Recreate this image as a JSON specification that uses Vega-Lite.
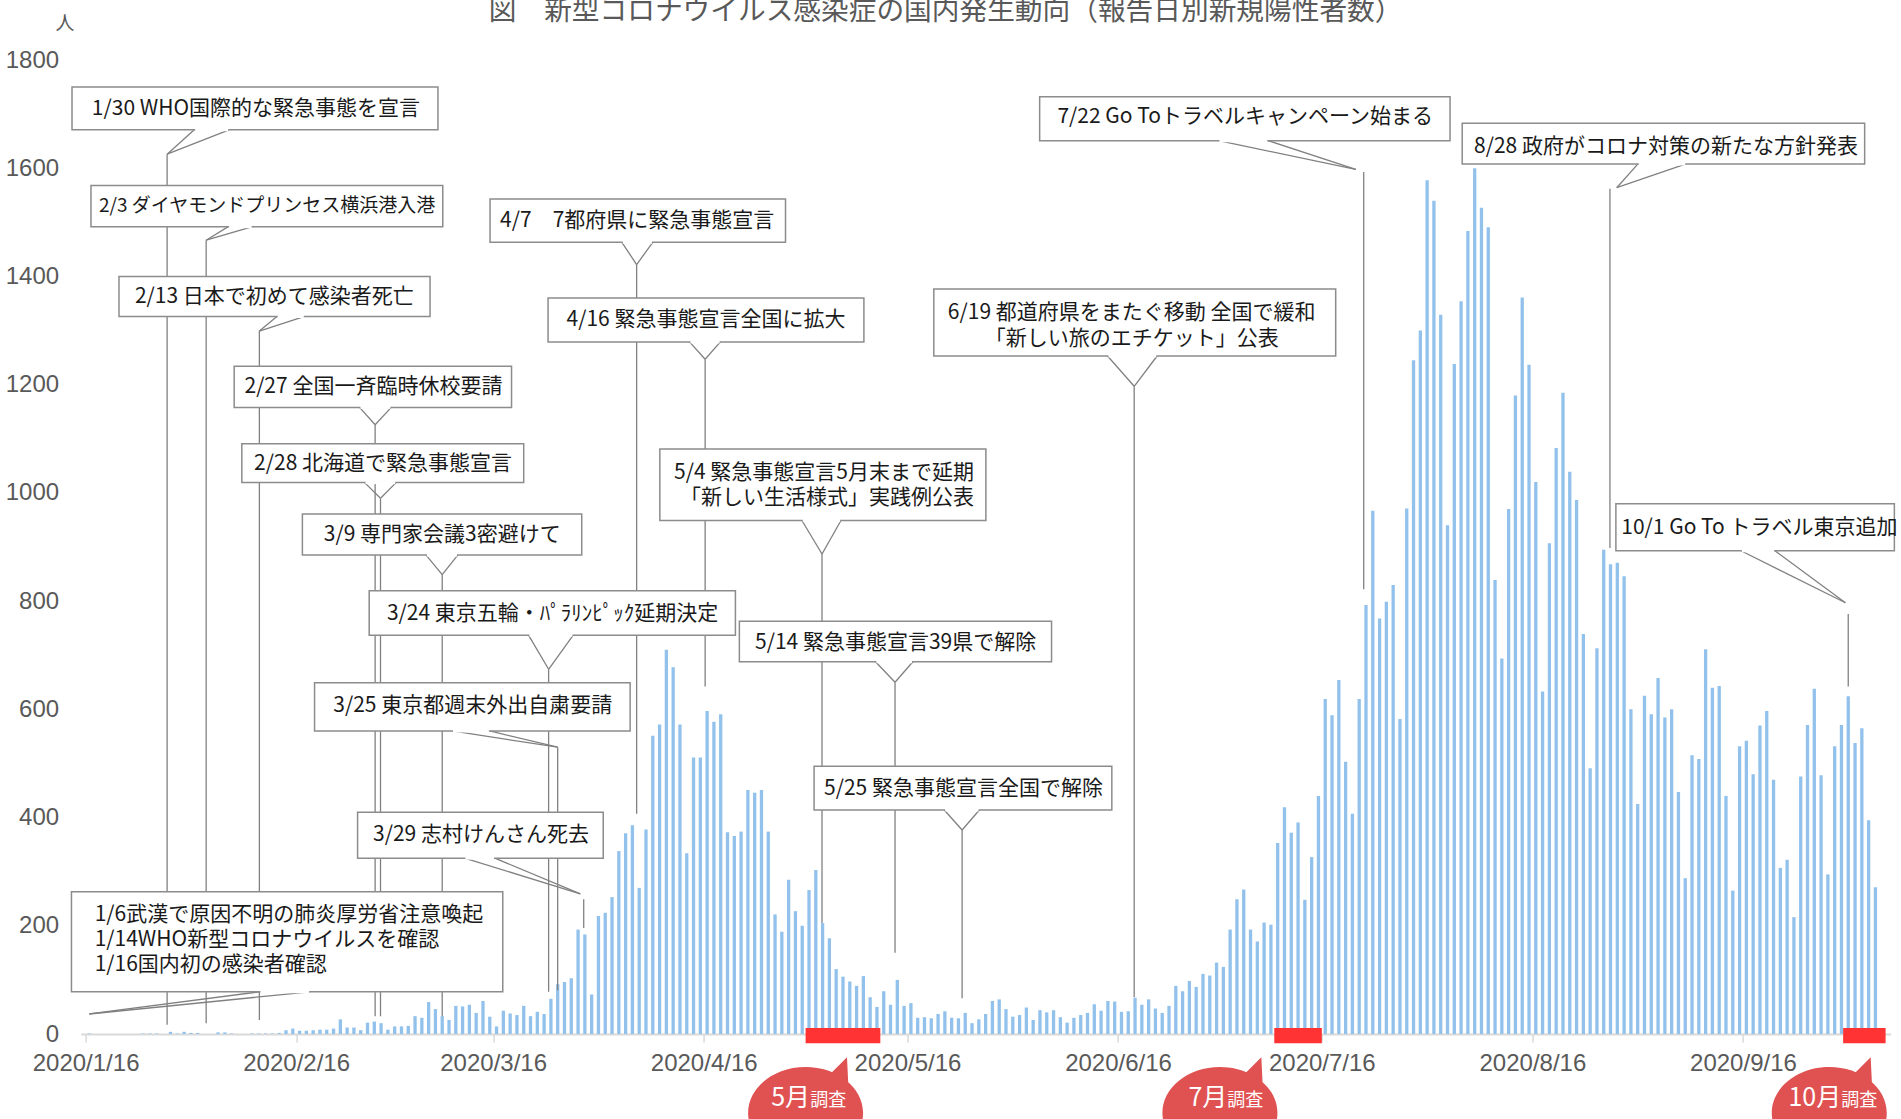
{
"$schema":"https://vega.github.io/schema/vega-lite/v6.json",
"width":1810,"height":974,
"autosize":{"type":"none"},
"padding":{"left":80.6,"top":60,"right":10.4,"bottom":85},
"background":"white",
"title":{"text":"図　新型コロナウイルス感染症の国内発生動向（報告日別新規陽性者数）","font":"Noto Sans CJK JP","fontSize":27.7,"fontWeight":"normal","color":"#595959","anchor":"middle","frame":"group","dx":-40,"offset":-34,"baseline":"alphabetic"},
"config":{"view":{"stroke":null},"axis":{"grid":false}},
"datasets":{
"cases":[
{"date":"2020-01-16","value":1},{"date":"2020-01-17","value":0},{"date":"2020-01-18","value":0},{"date":"2020-01-19","value":0},{"date":"2020-01-20","value":0},{"date":"2020-01-21","value":0},{"date":"2020-01-22","value":0},{"date":"2020-01-23","value":0},{"date":"2020-01-24","value":1},{"date":"2020-01-25","value":1},{"date":"2020-01-26","value":1},{"date":"2020-01-27","value":0},{"date":"2020-01-28","value":4},{"date":"2020-01-29","value":1},{"date":"2020-01-30","value":4},{"date":"2020-01-31","value":2},
{"date":"2020-02-01","value":2},{"date":"2020-02-02","value":0},{"date":"2020-02-03","value":0},{"date":"2020-02-04","value":3},{"date":"2020-02-05","value":3},{"date":"2020-02-06","value":1},{"date":"2020-02-07","value":0},{"date":"2020-02-08","value":0},{"date":"2020-02-09","value":1},{"date":"2020-02-10","value":1},{"date":"2020-02-11","value":1},{"date":"2020-02-12","value":1},{"date":"2020-02-13","value":2},{"date":"2020-02-14","value":7},{"date":"2020-02-15","value":10},{"date":"2020-02-16","value":6},{"date":"2020-02-17","value":6},{"date":"2020-02-18","value":7},{"date":"2020-02-19","value":8},{"date":"2020-02-20","value":8},{"date":"2020-02-21","value":10},{"date":"2020-02-22","value":27},{"date":"2020-02-23","value":12},{"date":"2020-02-24","value":12},{"date":"2020-02-25","value":7},{"date":"2020-02-26","value":21},{"date":"2020-02-27","value":23},{"date":"2020-02-28","value":20},{"date":"2020-02-29","value":8},
{"date":"2020-03-01","value":14},{"date":"2020-03-02","value":14},{"date":"2020-03-03","value":15},{"date":"2020-03-04","value":33},{"date":"2020-03-05","value":30},{"date":"2020-03-06","value":59},{"date":"2020-03-07","value":46},{"date":"2020-03-08","value":33},{"date":"2020-03-09","value":26},{"date":"2020-03-10","value":52},{"date":"2020-03-11","value":51},{"date":"2020-03-12","value":54},{"date":"2020-03-13","value":39},{"date":"2020-03-14","value":61},{"date":"2020-03-15","value":32},{"date":"2020-03-16","value":14},{"date":"2020-03-17","value":43},{"date":"2020-03-18","value":38},{"date":"2020-03-19","value":35},{"date":"2020-03-20","value":52},{"date":"2020-03-21","value":33},{"date":"2020-03-22","value":41},{"date":"2020-03-23","value":37},{"date":"2020-03-24","value":65},{"date":"2020-03-25","value":92},{"date":"2020-03-26","value":96},{"date":"2020-03-27","value":103},{"date":"2020-03-28","value":193},{"date":"2020-03-29","value":184},{"date":"2020-03-30","value":73},{"date":"2020-03-31","value":218},
{"date":"2020-04-01","value":224},{"date":"2020-04-02","value":253},{"date":"2020-04-03","value":338},{"date":"2020-04-04","value":371},{"date":"2020-04-05","value":386},{"date":"2020-04-06","value":270},{"date":"2020-04-07","value":378},{"date":"2020-04-08","value":551},{"date":"2020-04-09","value":572},{"date":"2020-04-10","value":710},{"date":"2020-04-11","value":678},{"date":"2020-04-12","value":572},{"date":"2020-04-13","value":334},{"date":"2020-04-14","value":511},{"date":"2020-04-15","value":511},{"date":"2020-04-16","value":597},{"date":"2020-04-17","value":577},{"date":"2020-04-18","value":591},{"date":"2020-04-19","value":373},{"date":"2020-04-20","value":366},{"date":"2020-04-21","value":374},{"date":"2020-04-22","value":451},{"date":"2020-04-23","value":446},{"date":"2020-04-24","value":451},{"date":"2020-04-25","value":374},{"date":"2020-04-26","value":221},{"date":"2020-04-27","value":189},{"date":"2020-04-28","value":285},{"date":"2020-04-29","value":227},{"date":"2020-04-30","value":200},
{"date":"2020-05-01","value":266},{"date":"2020-05-02","value":303},{"date":"2020-05-03","value":205},{"date":"2020-05-04","value":177},{"date":"2020-05-05","value":120},{"date":"2020-05-06","value":106},{"date":"2020-05-07","value":97},{"date":"2020-05-08","value":89},{"date":"2020-05-09","value":107},{"date":"2020-05-10","value":68},{"date":"2020-05-11","value":50},{"date":"2020-05-12","value":79},{"date":"2020-05-13","value":54},{"date":"2020-05-14","value":100},{"date":"2020-05-15","value":52},{"date":"2020-05-16","value":57},{"date":"2020-05-17","value":30},{"date":"2020-05-18","value":31},{"date":"2020-05-19","value":29},{"date":"2020-05-20","value":37},{"date":"2020-05-21","value":42},{"date":"2020-05-22","value":30},{"date":"2020-05-23","value":29},{"date":"2020-05-24","value":39},{"date":"2020-05-25","value":20},{"date":"2020-05-26","value":27},{"date":"2020-05-27","value":37},{"date":"2020-05-28","value":61},{"date":"2020-05-29","value":64},{"date":"2020-05-30","value":46},{"date":"2020-05-31","value":32},
{"date":"2020-06-01","value":35},{"date":"2020-06-02","value":49},{"date":"2020-06-03","value":26},{"date":"2020-06-04","value":44},{"date":"2020-06-05","value":40},{"date":"2020-06-06","value":44},{"date":"2020-06-07","value":31},{"date":"2020-06-08","value":21},{"date":"2020-06-09","value":30},{"date":"2020-06-10","value":35},{"date":"2020-06-11","value":39},{"date":"2020-06-12","value":55},{"date":"2020-06-13","value":43},{"date":"2020-06-14","value":61},{"date":"2020-06-15","value":60},{"date":"2020-06-16","value":41},{"date":"2020-06-17","value":42},{"date":"2020-06-18","value":67},{"date":"2020-06-19","value":54},{"date":"2020-06-20","value":64},{"date":"2020-06-21","value":47},{"date":"2020-06-22","value":39},{"date":"2020-06-23","value":52},{"date":"2020-06-24","value":89},{"date":"2020-06-25","value":79},{"date":"2020-06-26","value":98},{"date":"2020-06-27","value":87},{"date":"2020-06-28","value":111},{"date":"2020-06-29","value":108},{"date":"2020-06-30","value":132},
{"date":"2020-07-01","value":124},{"date":"2020-07-02","value":193},{"date":"2020-07-03","value":249},{"date":"2020-07-04","value":267},{"date":"2020-07-05","value":193},{"date":"2020-07-06","value":171},{"date":"2020-07-07","value":206},{"date":"2020-07-08","value":202},{"date":"2020-07-09","value":353},{"date":"2020-07-10","value":419},{"date":"2020-07-11","value":372},{"date":"2020-07-12","value":391},{"date":"2020-07-13","value":248},{"date":"2020-07-14","value":327},{"date":"2020-07-15","value":440},{"date":"2020-07-16","value":619},{"date":"2020-07-17","value":589},{"date":"2020-07-18","value":654},{"date":"2020-07-19","value":503},{"date":"2020-07-20","value":407},{"date":"2020-07-21","value":619},{"date":"2020-07-22","value":793},{"date":"2020-07-23","value":967},{"date":"2020-07-24","value":768},{"date":"2020-07-25","value":799},{"date":"2020-07-26","value":830},{"date":"2020-07-27","value":582},{"date":"2020-07-28","value":971},{"date":"2020-07-29","value":1245},{"date":"2020-07-30","value":1300},{"date":"2020-07-31","value":1578},
{"date":"2020-08-01","value":1540},{"date":"2020-08-02","value":1329},{"date":"2020-08-03","value":940},{"date":"2020-08-04","value":1238},{"date":"2020-08-05","value":1354},{"date":"2020-08-06","value":1484},{"date":"2020-08-07","value":1600},{"date":"2020-08-08","value":1527},{"date":"2020-08-09","value":1491},{"date":"2020-08-10","value":839},{"date":"2020-08-11","value":694},{"date":"2020-08-12","value":970},{"date":"2020-08-13","value":1180},{"date":"2020-08-14","value":1361},{"date":"2020-08-15","value":1237},{"date":"2020-08-16","value":1020},{"date":"2020-08-17","value":633},{"date":"2020-08-18","value":907},{"date":"2020-08-19","value":1083},{"date":"2020-08-20","value":1185},{"date":"2020-08-21","value":1039},{"date":"2020-08-22","value":987},{"date":"2020-08-23","value":739},{"date":"2020-08-24","value":491},{"date":"2020-08-25","value":713},{"date":"2020-08-26","value":895},{"date":"2020-08-27","value":868},{"date":"2020-08-28","value":871},{"date":"2020-08-29","value":846},{"date":"2020-08-30","value":600},{"date":"2020-08-31","value":425},
{"date":"2020-09-01","value":625},{"date":"2020-09-02","value":591},{"date":"2020-09-03","value":658},{"date":"2020-09-04","value":585},{"date":"2020-09-05","value":600},{"date":"2020-09-06","value":447},{"date":"2020-09-07","value":288},{"date":"2020-09-08","value":515},{"date":"2020-09-09","value":508},{"date":"2020-09-10","value":711},{"date":"2020-09-11","value":640},{"date":"2020-09-12","value":643},{"date":"2020-09-13","value":440},{"date":"2020-09-14","value":265},{"date":"2020-09-15","value":532},{"date":"2020-09-16","value":542},{"date":"2020-09-17","value":480},{"date":"2020-09-18","value":570},{"date":"2020-09-19","value":597},{"date":"2020-09-20","value":470},{"date":"2020-09-21","value":307},{"date":"2020-09-22","value":322},{"date":"2020-09-23","value":216},{"date":"2020-09-24","value":476},{"date":"2020-09-25","value":571},{"date":"2020-09-26","value":638},{"date":"2020-09-27","value":478},{"date":"2020-09-28","value":295},{"date":"2020-09-29","value":532},{"date":"2020-09-30","value":571},
{"date":"2020-10-01","value":624},{"date":"2020-10-02","value":538},{"date":"2020-10-03","value":565},{"date":"2020-10-04","value":395},{"date":"2020-10-05","value":271}
],
"segs":[
{"date":"2020-01-28T00:00Z","value":1626,"date2":"2020-01-28T00:00Z","value2":17},
{"date":"2020-02-02T18:00Z","value":1467,"date2":"2020-02-02T18:00Z","value2":20},
{"date":"2020-02-10T14:00Z","value":1299,"date2":"2020-02-10T14:00Z","value2":26},
{"date":"2020-02-27T15:00Z","value":1126,"date2":"2020-02-27T15:00Z","value2":33},
{"date":"2020-02-28T10:00Z","value":990,"date2":"2020-02-28T10:00Z","value2":33},
{"date":"2020-03-08T12:00Z","value":849,"date2":"2020-03-08T12:00Z","value2":33},
{"date":"2020-03-24T04:00Z","value":674,"date2":"2020-03-24T04:00Z","value2":78},
{"date":"2020-03-25T12:00Z","value":530,"date2":"2020-03-25T12:00Z","value2":81},
{"date":"2020-03-29T08:00Z","value":249,"date2":"2020-03-29T08:00Z","value2":196},
{"date":"2020-04-06T03:00Z","value":1422,"date2":"2020-04-06T03:00Z","value2":407},
{"date":"2020-04-16T05:00Z","value":1247,"date2":"2020-04-16T05:00Z","value2":642},
{"date":"2020-05-03T10:00Z","value":887,"date2":"2020-05-03T10:00Z","value2":205},
{"date":"2020-05-14T04:00Z","value":650,"date2":"2020-05-14T04:00Z","value2":150},
{"date":"2020-05-24T01:00Z","value":377,"date2":"2020-05-24T01:00Z","value2":66},
{"date":"2020-06-18T09:00Z","value":1197,"date2":"2020-06-18T09:00Z","value2":68},
{"date":"2020-07-22T04:00Z","value":1593,"date2":"2020-07-22T04:00Z","value2":822},
{"date":"2020-08-27T10:00Z","value":1562,"date2":"2020-08-27T10:00Z","value2":898},
{"date":"2020-10-01T12:00Z","value":776,"date2":"2020-10-01T12:00Z","value2":642},
{"date":"2020-02-01T00:00Z","value":1671,"date2":"2020-01-28T00:00Z","value2":1626},
{"date":"2020-02-06T03:00Z","value":1671,"date2":"2020-01-28T00:00Z","value2":1626},
{"date":"2020-02-06T00:00Z","value":1492,"date2":"2020-02-02T18:00Z","value2":1467},
{"date":"2020-02-09T14:00Z","value":1492,"date2":"2020-02-02T18:00Z","value2":1467},
{"date":"2020-02-13T04:00Z","value":1326,"date2":"2020-02-10T14:00Z","value2":1299},
{"date":"2020-02-17T06:00Z","value":1326,"date2":"2020-02-10T14:00Z","value2":1299},
{"date":"2020-02-25T08:00Z","value":1158,"date2":"2020-02-27T15:00Z","value2":1126},
{"date":"2020-03-01T00:00Z","value":1158,"date2":"2020-02-27T15:00Z","value2":1126},
{"date":"2020-02-26T02:00Z","value":1019,"date2":"2020-02-28T10:00Z","value2":990},
{"date":"2020-03-01T17:00Z","value":1019,"date2":"2020-02-28T10:00Z","value2":990},
{"date":"2020-03-06T03:00Z","value":885,"date2":"2020-03-08T12:00Z","value2":849},
{"date":"2020-03-10T19:00Z","value":885,"date2":"2020-03-08T12:00Z","value2":849},
{"date":"2020-03-21T05:00Z","value":737,"date2":"2020-03-24T04:00Z","value2":674},
{"date":"2020-03-27T19:00Z","value":737,"date2":"2020-03-24T04:00Z","value2":674},
{"date":"2020-03-09T23:00Z","value":560,"date2":"2020-03-25T12:00Z","value2":530},
{"date":"2020-03-15T12:00Z","value":560,"date2":"2020-03-25T12:00Z","value2":530},
{"date":"2020-03-11T19:00Z","value":325,"date2":"2020-03-28T20:00Z","value2":259},
{"date":"2020-03-16T06:00Z","value":325,"date2":"2020-03-28T20:00Z","value2":259},
{"date":"2020-02-10T15:00Z","value":78,"date2":"2020-01-16T13:00Z","value2":37},
{"date":"2020-02-18T01:00Z","value":78,"date2":"2020-01-16T13:00Z","value2":37},
{"date":"2020-04-03T23:00Z","value":1463,"date2":"2020-04-06T03:00Z","value2":1422},
{"date":"2020-04-08T12:00Z","value":1463,"date2":"2020-04-06T03:00Z","value2":1422},
{"date":"2020-04-13T22:00Z","value":1279,"date2":"2020-04-16T05:00Z","value2":1247},
{"date":"2020-04-18T11:00Z","value":1279,"date2":"2020-04-16T05:00Z","value2":1247},
{"date":"2020-04-30T11:00Z","value":949,"date2":"2020-05-03T10:00Z","value2":887},
{"date":"2020-05-06T05:00Z","value":949,"date2":"2020-05-03T10:00Z","value2":887},
{"date":"2020-05-11T07:00Z","value":688,"date2":"2020-05-14T04:00Z","value2":650},
{"date":"2020-05-16T19:00Z","value":688,"date2":"2020-05-14T04:00Z","value2":650},
{"date":"2020-05-21T10:00Z","value":414,"date2":"2020-05-24T01:00Z","value2":377},
{"date":"2020-05-26T14:00Z","value":414,"date2":"2020-05-24T01:00Z","value2":377},
{"date":"2020-06-14T11:00Z","value":1253,"date2":"2020-06-18T09:00Z","value2":1197},
{"date":"2020-06-21T18:00Z","value":1253,"date2":"2020-06-18T09:00Z","value2":1197},
{"date":"2020-06-30T19:00Z","value":1651,"date2":"2020-07-21T00:00Z","value2":1598},
{"date":"2020-07-08T02:00Z","value":1651,"date2":"2020-07-21T00:00Z","value2":1598},
{"date":"2020-08-31T13:00Z","value":1608,"date2":"2020-08-28T10:00Z","value2":1564},
{"date":"2020-09-07T15:00Z","value":1608,"date2":"2020-08-28T10:00Z","value2":1564},
{"date":"2020-09-15T17:00Z","value":893,"date2":"2020-10-01T02:00Z","value2":797},
{"date":"2020-09-20T17:00Z","value":893,"date2":"2020-10-01T02:00Z","value2":797}
],
"gaps":[
{"date":"2020-02-01T03:00Z","date2":"2020-02-06T00:00Z","value":1671},
{"date":"2020-02-06T03:00Z","date2":"2020-02-09T11:00Z","value":1492},
{"date":"2020-02-13T07:00Z","date2":"2020-02-17T03:00Z","value":1326},
{"date":"2020-02-25T11:00Z","date2":"2020-02-29T21:00Z","value":1158},
{"date":"2020-02-26T05:00Z","date2":"2020-03-01T14:00Z","value":1019},
{"date":"2020-03-06T06:00Z","date2":"2020-03-10T16:00Z","value":885},
{"date":"2020-03-21T08:00Z","date2":"2020-03-27T16:00Z","value":737},
{"date":"2020-03-10T02:00Z","date2":"2020-03-15T09:00Z","value":560},
{"date":"2020-03-11T22:00Z","date2":"2020-03-16T03:00Z","value":325},
{"date":"2020-02-10T18:00Z","date2":"2020-02-17T22:00Z","value":78},
{"date":"2020-04-04T02:00Z","date2":"2020-04-08T09:00Z","value":1463},
{"date":"2020-04-14T01:00Z","date2":"2020-04-18T08:00Z","value":1279},
{"date":"2020-04-30T14:00Z","date2":"2020-05-06T02:00Z","value":949},
{"date":"2020-05-11T10:00Z","date2":"2020-05-16T16:00Z","value":688},
{"date":"2020-05-21T13:00Z","date2":"2020-05-26T11:00Z","value":414},
{"date":"2020-06-14T14:00Z","date2":"2020-06-21T15:00Z","value":1253},
{"date":"2020-06-30T22:00Z","date2":"2020-07-07T23:00Z","value":1651},
{"date":"2020-08-31T16:00Z","date2":"2020-09-07T12:00Z","value":1608},
{"date":"2020-09-15T20:00Z","date2":"2020-09-20T14:00Z","value":893}
],
"boxes":[
{"date":"2020-01-14T00:00Z","date2":"2020-03-07T21:00Z","value":1750,"value2":1671},
{"date":"2020-01-16T19:00Z","date2":"2020-03-08T14:00Z","value":1568,"value2":1492},
{"date":"2020-01-20T22:00Z","date2":"2020-03-06T17:00Z","value":1400,"value2":1326},
{"date":"2020-02-06T21:00Z","date2":"2020-03-18T17:00Z","value":1234,"value2":1158},
{"date":"2020-02-08T00:00Z","date2":"2020-03-20T12:00Z","value":1091,"value2":1019},
{"date":"2020-02-16T22:00Z","date2":"2020-03-29T01:00Z","value":961,"value2":885},
{"date":"2020-02-26T18:00Z","date2":"2020-04-20T16:00Z","value":819,"value2":737},
{"date":"2020-02-18T17:00Z","date2":"2020-04-05T04:00Z","value":649,"value2":560},
{"date":"2020-02-25T01:00Z","date2":"2020-04-01T05:00Z","value":410,"value2":325},
{"date":"2020-01-13T22:00Z","date2":"2020-03-17T10:00Z","value":263,"value2":78},
{"date":"2020-03-15T13:00Z","date2":"2020-04-28T01:00Z","value":1543,"value2":1463},
{"date":"2020-03-24T02:00Z","date2":"2020-05-09T14:00Z","value":1360,"value2":1279},
{"date":"2020-04-09T13:00Z","date2":"2020-05-27T13:00Z","value":1081,"value2":949},
{"date":"2020-04-21T06:00Z","date2":"2020-06-06T05:00Z","value":763,"value2":688},
{"date":"2020-05-02T06:00Z","date2":"2020-06-15T02:00Z","value":495,"value2":414},
{"date":"2020-05-19T21:00Z","date2":"2020-07-18T01:00Z","value":1377,"value2":1253},
{"date":"2020-06-04T11:00Z","date2":"2020-08-03T21:00Z","value":1732,"value2":1651},
{"date":"2020-08-05T16:00Z","date2":"2020-10-03T22:00Z","value":1683,"value2":1608},
{"date":"2020-08-28T07:00Z","date2":"2020-10-08T07:00Z","value":980,"value2":893}
],
"lab_c":[
{"date":"2020-02-10T02:00Z","value":1710,"label":"1/30 WHO国際的な緊急事態を宣言"},
{"date":"2020-02-12T19:00Z","value":1362,"label":"2/13 日本で初めて感染者死亡"},
{"date":"2020-02-27T09:00Z","value":1196,"label":"2/27 全国一斉臨時休校要請"},
{"date":"2020-02-28T19:00Z","value":1053,"label":"2/28 北海道で緊急事態宣言"},
{"date":"2020-03-08T12:00Z","value":923,"label":"3/9 専門家会議3密避けて"},
{"date":"2020-03-24T18:00Z","value":776,"label":"3/24 東京五輪・ﾊﾟﾗﾘﾝﾋﾟｯｸ延期決定"},
{"date":"2020-03-13T00:00Z","value":606,"label":"3/25 東京都週末外出自粛要請"},
{"date":"2020-03-14T05:00Z","value":367,"label":"3/29 志村けんさん死去"},
{"date":"2020-04-06T05:00Z","value":1503,"label":"4/7　7都府県に緊急事態宣言"},
{"date":"2020-04-16T08:00Z","value":1320,"label":"4/16 緊急事態宣言全国に拡大"},
{"date":"2020-05-14T06:00Z","value":722,"label":"5/14 緊急事態宣言39県で解除"},
{"date":"2020-05-24T06:00Z","value":453,"label":"5/25 緊急事態宣言全国で解除"},
{"date":"2020-07-04T17:00Z","value":1694,"label":"7/22 Go Toトラベルキャンペーン始まる"},
{"date":"2020-09-04T16:00Z","value":1640,"label":"8/28 政府がコロナ対策の新たな方針発表"}
],
"lab_cm":[
{"date":"2020-06-18T00:00Z","value":1333,"label":"6/19 都道府県をまたぐ移動 全国で緩和\n「新しい旅のエチケット」公表"}
],
"lab_s":[
{"date":"2020-02-11T17:00Z","value":1530,"label":"2/3 ダイヤモンドプリンセス横浜港入港"}
],
"lab_l":[
{"date":"2020-08-29T02:00Z","value":935,"label":"10/1 Go To トラベル東京追加"}
],
"lab_lm":[
{"date":"2020-01-17T08:00Z","value":220,"label":"1/6武漢で原因不明の肺炎厚労省注意喚起\n1/14WHO新型コロナウイルスを確認\n1/16国内初の感染者確認"}
],
"lab_rm":[
{"date":"2020-05-25T19:00Z","value":1036,"label":"5/4 緊急事態宣言5月末まで延期\n「新しい生活様式」実践例公表"}
],
"survey":[
{"date":"2020-05-01","date2":"2020-05-12","value":11,"value2":-17},
{"date":"2020-07-09","date2":"2020-07-16","value":11,"value2":-17},
{"date":"2020-09-30T18:00Z","date2":"2020-10-07","value":11,"value2":-17}
],
"bubbles":[
{"date":"2020-05-01","value":-146},
{"date":"2020-07-01","value":-146},
{"date":"2020-09-28T17:00Z","value":-146}
],
"bub_big":[
{"date":"2020-05-01T16:00Z","value":-133,"label":"5月"},
{"date":"2020-07-02T02:00Z","value":-133,"label":"7月"},
{"date":"2020-09-30T11:00Z","value":-133,"label":"10月"}
],
"bub_small":[
{"date":"2020-05-01T16:00Z","value":-133,"label":"調査"},
{"date":"2020-07-02T02:00Z","value":-133,"label":"調査"},
{"date":"2020-09-30T11:00Z","value":-133,"label":"調査"}
]
},
"encoding":{
"x":{"field":"date","type":"temporal","title":null,
 "scale":{"type":"utc","domain":[{"year":2020,"month":1,"date":16,"utc":true},{"year":2020,"month":10,"date":7,"utc":true}],"nice":false},
 "axis":{"title":null,"values":[{"year":2020,"month":1,"date":16,"utc":true},{"year":2020,"month":2,"date":16,"utc":true},{"year":2020,"month":3,"date":16,"utc":true},{"year":2020,"month":4,"date":16,"utc":true},{"year":2020,"month":5,"date":16,"utc":true},{"year":2020,"month":6,"date":16,"utc":true},{"year":2020,"month":7,"date":16,"utc":true},{"year":2020,"month":8,"date":16,"utc":true},{"year":2020,"month":9,"date":16,"utc":true}],
  "format":"%Y/%-m/%-d","labelAngle":0,"labelFlush":false,"labelOverlap":false,"labelFont":"Liberation Sans","labelFontSize":24,"labelColor":"#595959","labelPadding":9,
  "tickSize":8,"tickColor":"#d9d9d9","tickWidth":1.5,"domainColor":"#d9d9d9","domainWidth":2,"grid":false}},
"y":{"field":"value","type":"quantitative",
 "scale":{"domain":[0,1800],"nice":false,"zero":true},
 "axis":{"title":"人","titleAngle":0,"titleX":-16,"titleY":-37,"titleAlign":"center","titleBaseline":"middle","titleFont":"Noto Sans CJK JP","titleFontSize":19,"titleFontWeight":"normal","titleColor":"#595959",
  "values":[0,200,400,600,800,1000,1200,1400,1600,1800],"format":"d","ticks":false,"tickSize":0,"domain":false,"grid":false,"labelPadding":22,"labelFont":"Liberation Sans","labelFontSize":24,"labelColor":"#595959"}}
},
"layer":[
{"data":{"name":"cases"},"mark":{"type":"bar","width":3.3,"xOffset":3.415,"color":"#92c2ec"}},
{"data":{"name":"segs"},"mark":{"type":"rule","color":"#808080","strokeWidth":1.3},"encoding":{"x2":{"field":"date2"},"y2":{"field":"value2"}}},
{"data":{"name":"boxes"},"mark":{"type":"rect","fill":"white","stroke":"#8c8c8c","strokeWidth":1.5},"encoding":{"x2":{"field":"date2"},"y2":{"field":"value2"}}},
{"data":{"name":"gaps"},"mark":{"type":"rule","color":"white","strokeWidth":3},"encoding":{"x2":{"field":"date2"}}},
{"data":{"name":"lab_c"},"mark":{"type":"text","align":"center","baseline":"middle","font":"Noto Sans CJK JP","fontSize":21,"color":"#1a1a1a"},"encoding":{"text":{"field":"label"}}},
{"data":{"name":"lab_cm"},"mark":{"type":"text","align":"center","baseline":"middle","lineBreak":"\n","lineHeight":26,"font":"Noto Sans CJK JP","fontSize":21,"color":"#1a1a1a"},"encoding":{"text":{"field":"label"}}},
{"data":{"name":"lab_s"},"mark":{"type":"text","align":"center","baseline":"middle","font":"Noto Sans CJK JP","fontSize":19,"color":"#1a1a1a"},"encoding":{"text":{"field":"label"}}},
{"data":{"name":"lab_l"},"mark":{"type":"text","align":"left","baseline":"middle","font":"Noto Sans CJK JP","fontSize":21,"color":"#1a1a1a"},"encoding":{"text":{"field":"label"}}},
{"data":{"name":"lab_lm"},"mark":{"type":"text","align":"left","baseline":"middle","lineBreak":"\n","lineHeight":25,"font":"Noto Sans CJK JP","fontSize":21,"color":"#1a1a1a"},"encoding":{"text":{"field":"label"}}},
{"data":{"name":"lab_rm"},"mark":{"type":"text","align":"right","baseline":"middle","lineBreak":"\n","lineHeight":25,"font":"Noto Sans CJK JP","fontSize":21,"color":"#1a1a1a"},"encoding":{"text":{"field":"label"}}},
{"data":{"name":"survey"},"mark":{"type":"rect","color":"#ff3333"},"encoding":{"x2":{"field":"date2"},"y2":{"field":"value2"}}},
{"data":{"name":"bubbles"},"mark":{"type":"point","filled":true,"opacity":1,"color":"#e05252","size":13225,"shape":"M -1 0 C -1 -0.442 -0.552 -0.8 0 -0.8 C 0.552 -0.8 1 -0.442 1 0 C 1 0.442 0.552 0.8 0 0.8 C -0.552 0.8 -1 0.442 -1 0 Z M 0.72 -0.97 L 0.75 -0.35 L 0.35 -0.6 Z"}},
{"data":{"name":"bub_big"},"mark":{"type":"text","align":"right","baseline":"alphabetic","font":"Noto Sans CJK JP","fontSize":25,"color":"white"},"encoding":{"text":{"field":"label"}}},
{"data":{"name":"bub_small"},"mark":{"type":"text","align":"left","baseline":"alphabetic","font":"Noto Sans CJK JP","fontSize":18,"color":"white"},"encoding":{"text":{"field":"label"}}}
]
}
